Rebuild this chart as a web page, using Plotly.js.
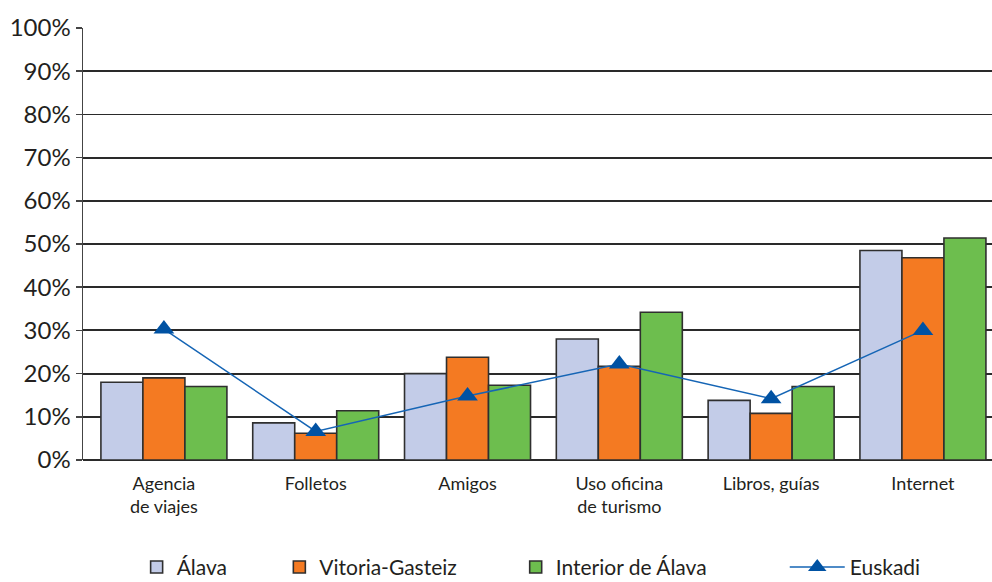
<!DOCTYPE html>
<html>
<head>
<meta charset="utf-8">
<script src="https://cdn.plot.ly/plotly-3.0.1.min.js"></script>
<style>html,body{margin:0;padding:0;background:#fff;}#chart{width:992px;height:582px;}</style>
</head>
<body>
<div id="chart"></div>
<script>
const categories = ["Agencia<br>de viajes", "Folletos", "Amigos", "Uso oficina<br>de turismo", "Libros, guías", "Internet"];
const alava = [18.0, 8.6, 20.0, 28.0, 13.8, 48.5];
const vitoria = [19.0, 6.2, 23.8, 21.7, 10.8, 46.8];
const interior = [17.0, 11.4, 17.3, 34.2, 17.0, 51.4];
const euskadi = [30.3, 6.6, 14.8, 22.2, 14.2, 30.0];
const yTicks = [0, 10, 20, 30, 40, 50, 60, 70, 80, 90, 100];
const yTickText = yTicks.map(v => v + "%");

const outline = {color: "#2f2f2f", width: 1.6};
const font = "Lato, 'Open Sans', sans-serif";

const traces = [
  {type: "bar", name: "Álava", x: categories, y: alava, marker: {color: "#c3cce8", line: outline}, legend: "legend"},
  {type: "bar", name: "Vitoria-Gasteiz", x: categories, y: vitoria, marker: {color: "#f47a22", line: outline}, legend: "legend2"},
  {type: "bar", name: "Interior de Álava", x: categories, y: interior, marker: {color: "#6dbe4e", line: outline}, legend: "legend3"},
  {type: "scatter", mode: "lines+markers", name: "Euskadi", x: categories, y: euskadi,
   line: {color: "#1565b5", width: 1.5}, marker: {symbol: "triangle-up", size: 18, color: "#0052a3"}, legend: "legend4"}
];

const legBase = {orientation: "h", yanchor: "bottom", y: -0.296, xanchor: "left", bgcolor: "rgba(0,0,0,0)",
  font: {family: font, size: 21, color: "#231f20"}};

const layout = {
  width: 992, height: 582,
  margin: {l: 83, r: 0, t: 28, b: 122, autoexpand: false},
  paper_bgcolor: "#ffffff", plot_bgcolor: "#ffffff",
  barmode: "group", bargap: 0.17, bargroupgap: 0,
  showlegend: true,
  legend: Object.assign({}, legBase, {x: 0.059}),
  legend2: Object.assign({}, legBase, {x: 0.216}),
  legend3: Object.assign({}, legBase, {x: 0.476}),
  legend4: Object.assign({}, legBase, {x: 0.772, itemwidth: 55}),
  xaxis: {
    range: [-0.533, 5.455], showgrid: false, zeroline: false,
    showline: false, ticks: "", ticklabelstandoff: 11,
    tickfont: {family: font, size: 18, color: "#231f20"}
  },
  yaxis: {
    range: [0, 100], tickvals: yTicks, ticktext: yTickText,
    showgrid: true, gridcolor: "#2a2a2a", gridwidth: 1.8,
    zeroline: true, zerolinecolor: "#2a2a2a", zerolinewidth: 1.8,
    showline: true, linecolor: "#444444", linewidth: 1.5,
    ticks: "outside", ticklen: 6, tickcolor: "#444444", tickwidth: 1.5,
    tickfont: {family: font, size: 24, color: "#231f20"}
  }
};

Plotly.newPlot("chart", traces, layout, {displayModeBar: false, staticPlot: true});
</script>
</body>
</html>
